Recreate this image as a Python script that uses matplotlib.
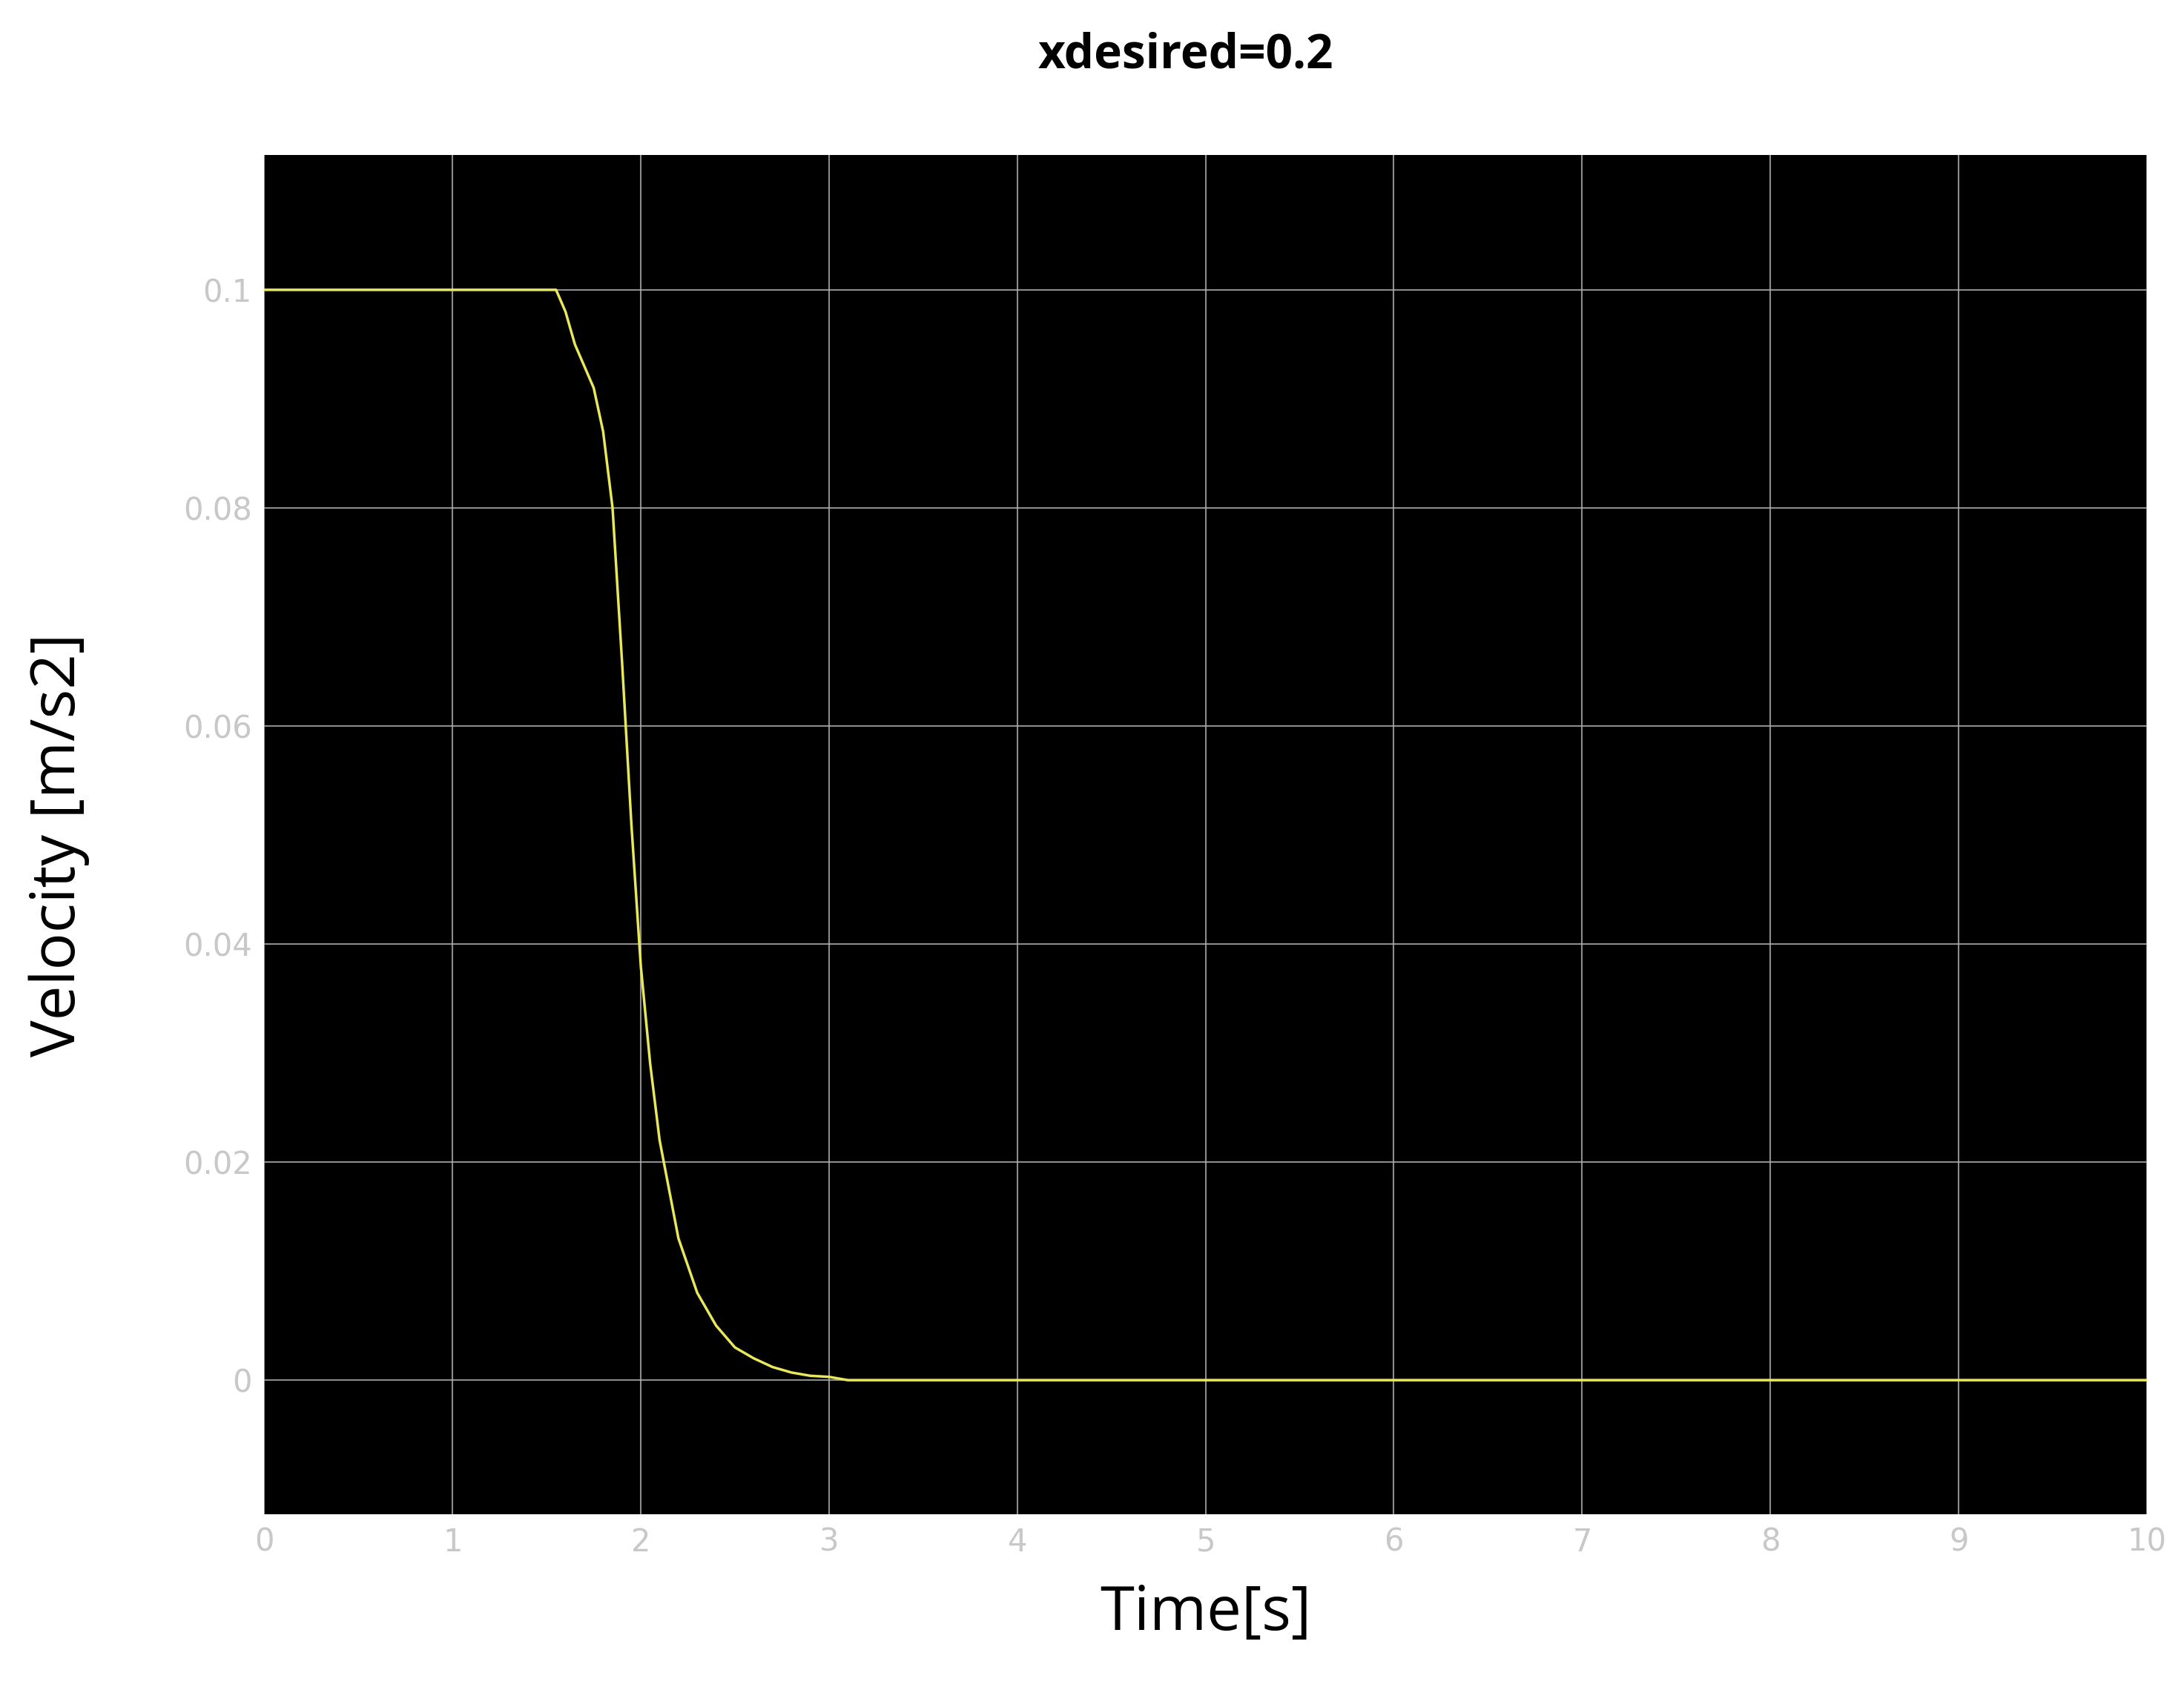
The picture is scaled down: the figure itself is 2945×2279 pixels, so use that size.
import matplotlib
matplotlib.use('Agg')
import matplotlib.pyplot as plt

# Dane
time_s   = [0, 1.55, 1.6, 1.65, 1.7, 1.75, 1.8, 1.85, 1.9, 1.95, 2.0, 2.05, 2.1,
            2.2, 2.3, 2.4, 2.5, 2.6, 2.7, 2.8, 2.9, 3.0, 3.1, 10]
velocity = [0.1, 0.1, 0.098, 0.095, 0.093, 0.091, 0.087, 0.08, 0.066, 0.051,
            0.038, 0.029, 0.022, 0.013, 0.008, 0.005, 0.003, 0.002, 0.0012,
            0.0007, 0.0004, 0.0003, 0.0, 0.0]
yticks   = [0, 0.02, 0.04, 0.06, 0.08, 0.1]
ytick_labels = ['0', '0.02', '0.04', '0.06', '0.08', '0.1']
xticks   = list(range(11))

fig = plt.figure(figsize=(29.45, 22.79), dpi=100)
ax = fig.add_axes([0.121, 0.104, 0.862, 0.8045])
ax.set_facecolor('black')
ax.plot(time_s, velocity, color='#e8e85a', lw=2.5)
ax.set_xlim(0, 10)
ax.set_ylim(-0.0123, 0.1124)
ax.set_xticks(xticks)
ax.set_yticks(yticks)
ax.set_yticklabels(ytick_labels)
ax.grid(color='#b0b0b0', lw=1.5, alpha=0.8)
ax.tick_params(colors='#c8c8c8', labelsize=30, length=0, pad=12)
for s in ax.spines.values():
    s.set_visible(False)

ax.set_xlabel('Time[s]', fontsize=60, family='Open Sans', labelpad=25)
fig.text(0.027, 0.5, 'Velocity [m/s2]', rotation=90, ha='center', va='center',
         fontsize=60, family='Open Sans')
fig.text(0.543, 0.967, 'xdesired=0.2', ha='center', va='center',
         fontsize=46, fontweight='bold', family='Open Sans')

plt.savefig('out.png', dpi=100)
